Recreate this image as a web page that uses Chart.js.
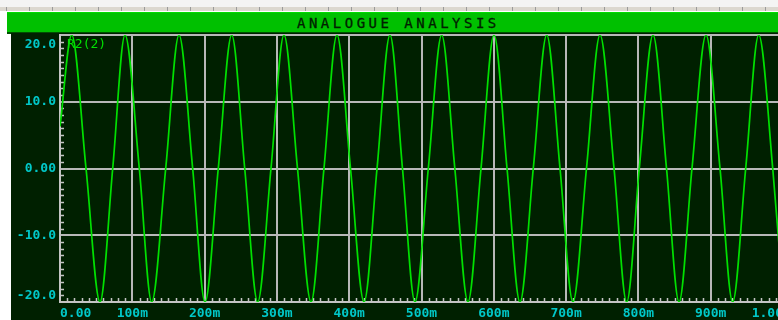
<!DOCTYPE html>
<html>
<head>
<meta charset="utf-8">
<script src="https://cdn.jsdelivr.net/npm/chart.js@4/dist/chart.umd.min.js"></script>
<style>
html,body{margin:0;padding:0;width:778px;height:320px;overflow:hidden;background:#ffffff;}
#ruler{position:absolute;left:0;top:0;width:778px;height:11px;background:#f4f4f4;}
#rulerTicks{position:absolute;left:0;top:7px;width:778px;height:4px;background-color:#dcd8d0;
  background-image:repeating-linear-gradient(to right,#9a9a9a 0 1px,transparent 1px 23px);background-position:6px 0;}
#titlebar{position:absolute;left:7px;top:12px;width:771px;height:19px;background:#00c000;border-top:1px solid #00dc00;border-bottom:2px solid #005000;}
#title{position:absolute;left:297px;top:15px;font:14px 'DejaVu Sans Mono',monospace;line-height:16px;letter-spacing:3.5px;color:#002000;white-space:nowrap;-webkit-text-stroke:0.3px #002000;}
#plotbg{position:absolute;left:11px;top:33px;width:767px;height:287px;background:#002000;}
#wrap{position:absolute;left:0;top:33px;width:800px;height:287px;}
</style>
</head>
<body>
<div id="ruler"><div id="rulerTicks"></div></div>
<div id="titlebar"></div>
<div id="title">ANALOGUE ANALYSIS</div>
<div id="plotbg"></div>
<div id="wrap"><canvas id="c" width="800" height="287"></canvas></div>
<script>
// ---- data ----
const xTickLabels = ['0.00','100m','200m','300m','400m','500m','600m','700m','800m','900m','1.00'];
const yTickLabels = ['-20.0','-10.0','0.00','10.0','20.0'];
const traceName = 'R2(2)';

const startTime = 0.0,  startValue = 6.3;
const endTime = 1.0,    endValue = -19.0;

const peakTimes = [0.0162, 0.0899, 0.1646, 0.2375, 0.3098, 0.3831, 0.4564, 0.5279, 0.6003, 0.6732, 0.7469, 0.8202, 0.8935, 0.9664];
const peakValue = 20.0;

const troughTimes = [0.0553, 0.1268, 0.2006, 0.2734, 0.3472, 0.4205, 0.4910, 0.5643, 0.6362, 0.7095, 0.7838, 0.8562, 0.9304];
const troughValue = -20.0;

const crossTimes = [0.0360, 0.0729, 0.1097, 0.1462, 0.1835, 0.2189, 0.2555, 0.2918, 0.3285, 0.3651, 0.4018, 0.4385, 0.4737, 0.5094,
                    0.5461, 0.5823, 0.6183, 0.6546, 0.6916, 0.7282, 0.7663, 0.8012, 0.8389, 0.8741, 0.9129, 0.9484, 0.9858];
const crossValue = 0.0;

// ---- build dataset from the arrays ----
const points = [{x:startTime, y:startValue}];
peakTimes.forEach(t => points.push({x:t, y:peakValue}));
troughTimes.forEach(t => points.push({x:t, y:troughValue}));
crossTimes.forEach(t => points.push({x:t, y:crossValue}));
points.push({x:endTime, y:endValue});
points.sort((a,b) => a.x - b.x);

const MONO = "'DejaVu Sans Mono', monospace";
const GRID = '#b8b8b8';
const LABEL = '#00c8c8';

const decor = {
  id: 'decor',
  beforeDatasetsDraw(chart) {
    const ctx = chart.ctx, xs = chart.scales.x, ys = chart.scales.y, a = chart.chartArea;
    ctx.save();
    ctx.strokeStyle = '#c4c4c4';
    ctx.lineWidth = 1.5;
    ctx.beginPath();
    for (let i = 1; i < 100; i++) {
      if (i % 10 === 0) continue;
      const px = Math.round(xs.getPixelForValue(i / 100)) + 0.5;
      ctx.moveTo(px, a.bottom);
      ctx.lineTo(px, a.bottom - 4);
    }
    for (let j = -19; j < 20; j++) {
      if (j % 10 === 0) continue;
      const py = Math.round(ys.getPixelForValue(j)) + 0.5;
      ctx.moveTo(a.left, py);
      ctx.lineTo(a.left + 4, py);
    }
    ctx.stroke();
    ctx.restore();
  },
  afterDraw(chart) {
    const ctx = chart.ctx, ys = chart.scales.y, a = chart.chartArea;
    ctx.save();
    ctx.font = 'bold 13px ' + MONO;
    ctx.fillStyle = LABEL;
    ctx.textAlign = 'right';
    ctx.textBaseline = 'middle';
    const n = ys.ticks.length;
    ys.ticks.forEach((t, i) => {
      let py = ys.getPixelForValue(t.value);
      if (i === n - 1) py += 10;
      if (i === 0) py -= 6;
      ctx.fillText(yTickLabels[i], 56, py);
    });
    ctx.fillStyle = '#00e000';
    ctx.textAlign = 'left';
    ctx.font = '13px ' + MONO;
    ctx.fillText(chart.data.datasets[0].label, a.left + 7, a.top + 10);
    ctx.restore();
  }
};

new Chart(document.getElementById('c'), {
  type: 'line',
  data: {
    datasets: [{
      label: traceName,
      data: points,
      borderColor: '#00e000',
      borderWidth: 1.7,
      pointRadius: 0,
      cubicInterpolationMode: 'monotone',
      fill: false
    }]
  },
  options: {
    responsive: false,
    animation: false,
    events: [],
    layout: { padding: { top: 2, right: 17, left: 0, bottom: 0 } },
    plugins: { legend: { display: false }, tooltip: { enabled: false }, title: { display: false } },
    scales: {
      x: {
        type: 'linear', min: 0, max: 1,
        afterFit(s) { s.height = 18; },
        ticks: {
          stepSize: 0.1, autoSkip: false, maxRotation: 0, align: 'inner', padding: 4,
          color: LABEL, font: { family: MONO, size: 13, weight: 'bold' },
          callback: (v, i) => xTickLabels[i]
        },
        grid: { color: GRID, lineWidth: 2, drawTicks: false },
        border: { color: '#c4c4c4', width: 2 }
      },
      y: {
        min: -20, max: 20,
        afterFit(s) { s.width = 60; },
        ticks: { stepSize: 10, display: false },
        grid: { color: GRID, lineWidth: 2, drawTicks: false },
        border: { color: '#c4c4c4', width: 2 }
      }
    }
  },
  plugins: [decor]
});
</script>
</body>
</html>
